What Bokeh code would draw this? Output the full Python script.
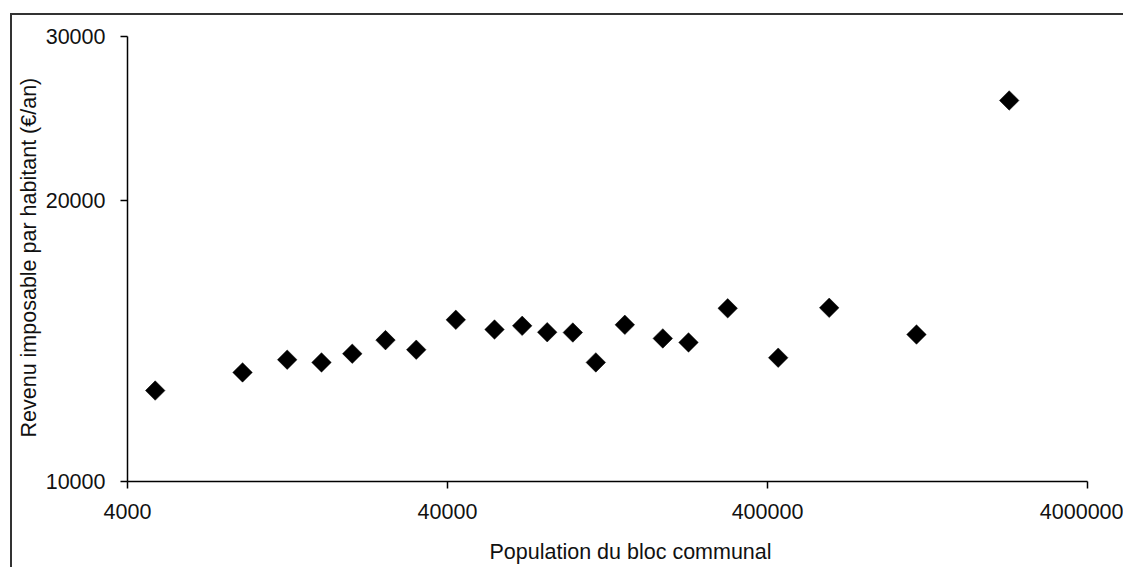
import numpy as np
from bokeh.plotting import figure
from bokeh.models import (FixedTicker, PrintfTickFormatter, Range1d, ColumnDataSource,
                          Title, GlobalInlineStyleSheet)
from bokeh.embed import file_html
from bokeh.resources import INLINE

# Data
population = [4883, 9153, 12623, 16155, 20160, 25605, 31946, 42462, 56105, 68456,
              81975, 98560, 116300, 143300, 188300, 226600, 300400, 432000, 623600,
              1168500, 2277000]
revenu = [12517, 13091, 13508, 13418, 13709, 14177, 13845, 14906, 14553, 14686,
          14456, 14445, 13418, 14723, 14237, 14097, 15335, 13574, 15354,
          14374, 25617]
x_ticks = [4000, 40000, 400000, 4000000]
y_ticks = [10000, 20000, 30000]
x_label = "Population du bloc communal"
y_label = "Revenu imposable par habitant (€/an)"

FONT = "Liberation Sans"
FS = "21.5px"

p = figure(width=1113, height=575, x_axis_type="log", y_axis_type="log",
           x_range=Range1d(4000, 4000000), y_range=Range1d(10000, 30000),
           output_backend="svg", toolbar_location=None,
           min_border_left=115, min_border_right=38, min_border_top=21,
           min_border_bottom=109)
p.margin = (13, 0, 0, 10)
p.styles = {"border-left": "2px solid #333", "border-top": "2px solid #333"}
p.stylesheets = [GlobalInlineStyleSheet(css="html, body { overflow: hidden; }")]

p.xgrid.visible = False
p.ygrid.visible = False
p.outline_line_color = None
p.background_fill_color = "white"
p.border_fill_color = "white"

src = ColumnDataSource(dict(x=population, y=revenu))
p.scatter("x", "y", source=src, marker="square", size=13.8, angle=np.pi / 4,
          fill_color="black", line_color="black", line_width=0.5)

p.xaxis.ticker = FixedTicker(ticks=x_ticks)
p.yaxis.ticker = FixedTicker(ticks=y_ticks)
for ax in (p.xaxis[0], p.yaxis[0]):
    ax.formatter = PrintfTickFormatter(format="%d")
    ax.major_tick_in = 0
    ax.major_tick_out = 7
    ax.minor_tick_in = 0
    ax.minor_tick_out = 0
    ax.axis_line_color = "black"
    ax.axis_line_width = 1.5
    ax.major_tick_line_color = "black"
    ax.major_tick_line_width = 1.5
    ax.major_label_text_font = FONT
    ax.major_label_text_font_size = FS
    ax.major_label_text_color = "#111111"

p.xaxis.major_label_standoff = 15
p.yaxis.major_label_standoff = 15

# Axis titles, offset along the axis as in the reference
xt = Title(text=x_label, align="left", offset=362, vertical_align="middle",
           standoff=35, text_font=FONT, text_font_size=FS,
           text_font_style="normal", text_color="#111111")
yt = Title(text=y_label, align="left", offset=44, vertical_align="middle",
           standoff=1, text_font=FONT, text_font_size=FS,
           text_font_style="normal", text_color="#111111")
p.add_layout(xt, "below")
p.add_layout(yt, "left")

open("out.html", "w").write(file_html(p, INLINE))
